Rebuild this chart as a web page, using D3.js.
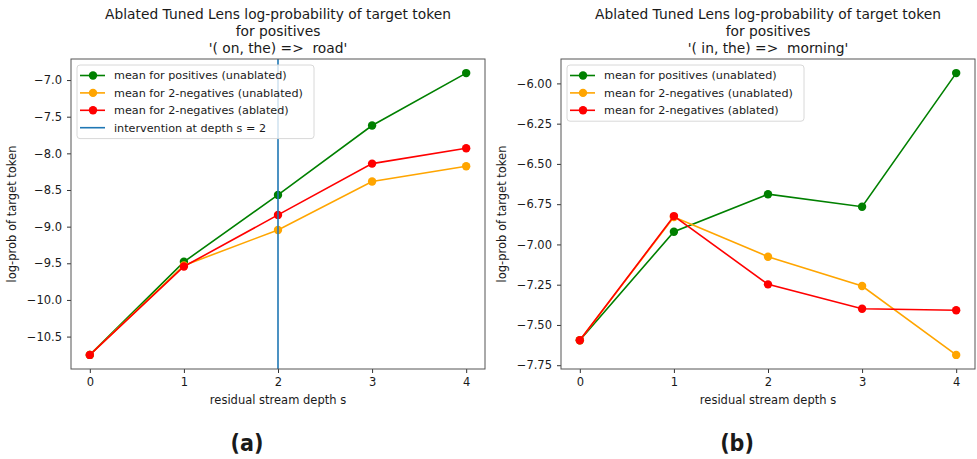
<!DOCTYPE html>
<html>
<head>
<meta charset="utf-8">
<script src="https://cdn.jsdelivr.net/npm/d3@7"></script>
<style>
  html, body { margin: 0; padding: 0; background: #fff; }
  svg { display: block; }
  text { font-family: "DejaVu Sans", sans-serif; fill: #1a1a1a; white-space: pre; }
</style>
</head>
<body>
<svg id="fig" width="977" height="459"></svg>
<script>
// residual stream depths
const depths = [0, 1, 2, 3, 4];

// panel (a): '( on, the) =>  road'
const roadPositives = [-10.75, -9.48, -8.567, -7.62, -6.905];
const roadNegUnablated = [-10.75, -9.53, -9.045, -8.385, -8.177];
const roadNegAblated = [-10.75, -9.544, -8.84, -8.14, -7.93];
const roadTicks = [-10.5, -10.0, -9.5, -9.0, -8.5, -8.0, -7.5, -7.0];
const roadIntervention = 2;

// panel (b): '( in, the) =>  morning'
const morningPositives = [-7.595, -6.921, -6.688, -6.766, -5.936];
const morningNegUnablated = [-7.595, -6.83, -7.076, -7.258, -7.686];
const morningNegAblated = [-7.595, -6.824, -7.248, -7.399, -7.409];
const morningTicks = [-7.75, -7.5, -7.25, -7.0, -6.75, -6.5, -6.25, -6.0];

const seriesNames = [
  "mean for positives (unablated)",
  "mean for 2-negatives (unablated)",
  "mean for 2-negatives (ablated)"
];
const seriesColors = ["#008000", "#ffa500", "#ff0000"];
const interventionColor = "#1f77b4";

const titleLine1 = "Ablated Tuned Lens log-probability of target token";
const titleLine2 = "for positives";
const xLabel = "residual stream depth s";
const yLabel = "log-prob of target token";

const svg = d3.select("#fig");

function drawPanel(opts) {
  const { left, right, top, bottom, series, ticks, tickFmt, subtitle, tag, intervention } = opts;
  const g = svg.append("g");

  const x = d3.scaleLinear().domain([-0.2, 4.2]).range([left, right]);
  const all = series.flat();
  const lo = d3.min(all), hi = d3.max(all), pad = (hi - lo) * 0.05;
  const y = d3.scaleLinear().domain([lo - pad, hi + pad]).range([bottom, top]);

  // axes
  const xAxis = g.append("g").attr("transform", `translate(0,${bottom})`)
    .call(d3.axisBottom(x).tickValues(depths).tickFormat(d3.format("d")).tickSizeOuter(0).tickSize(4).tickPadding(5));
  const yAxis = g.append("g").attr("transform", `translate(${left},0)`)
    .call(d3.axisLeft(y).tickValues(ticks).tickFormat(tickFmt).tickSizeOuter(0).tickSize(4).tickPadding(5));
  [xAxis, yAxis].forEach(a => {
    a.select(".domain").remove();
    a.selectAll("line").attr("stroke", "#333");
    a.selectAll("text").attr("font-size", 11.5).attr("font-family", "DejaVu Sans, sans-serif").attr("fill", "#1a1a1a");
  });

  // series lines and markers
  const line = d3.line().x((d, i) => x(depths[i])).y(d => y(d));
  series.forEach((vals, k) => {
    g.append("path").datum(vals).attr("d", line)
      .attr("fill", "none").attr("stroke", seriesColors[k]).attr("stroke-width", 1.6);
    g.selectAll(null).data(vals).enter().append("circle")
      .attr("cx", (d, i) => x(depths[i])).attr("cy", d => y(d)).attr("r", 4.2)
      .attr("fill", seriesColors[k]);
  });

  if (intervention !== undefined) {
    g.append("line").attr("x1", x(intervention)).attr("x2", x(intervention))
      .attr("y1", top).attr("y2", bottom)
      .attr("stroke", interventionColor).attr("stroke-width", 1.6);
  }

  // frame
  g.append("rect").attr("x", left).attr("y", top).attr("width", right - left).attr("height", bottom - top)
    .attr("fill", "none").attr("stroke", "#555").attr("stroke-width", 1);

  // legend
  const entries = seriesNames.map((n, k) => ({ name: n, color: seriesColors[k], marker: true }));
  if (intervention !== undefined) entries.push({ name: `intervention at depth s = ${intervention}`, color: interventionColor, marker: false });
  const lx = left + 6, ly = top + 6, rowH = 17.4;
  const leg = g.append("g");
  leg.append("rect").attr("x", lx).attr("y", ly).attr("width", 237).attr("height", entries.length * rowH + 4)
    .attr("rx", 3).attr("fill", "#fff").attr("fill-opacity", 0.8).attr("stroke", "#d8d8d8");
  entries.forEach((e, i) => {
    const cy = ly + 10.5 + i * rowH;
    leg.append("line").attr("x1", lx + 3).attr("x2", lx + 28).attr("y1", cy).attr("y2", cy)
      .attr("stroke", e.color).attr("stroke-width", 1.6);
    if (e.marker) leg.append("circle").attr("cx", lx + 16).attr("cy", cy).attr("r", 4.2).attr("fill", e.color);
    leg.append("text").attr("x", lx + 37).attr("y", cy).attr("dy", "0.35em")
      .attr("font-size", 11.2).text(e.name);
  });

  // titles and labels
  const cx = (left + right) / 2;
  const t = g.append("text").attr("text-anchor", "middle").attr("font-size", 13.8);
  [titleLine1, titleLine2, subtitle].forEach((s, i) => {
    t.append("tspan").attr("x", cx).attr("y", 19 + i * 17).text(s);
  });
  g.append("text").attr("x", cx).attr("y", 404).attr("text-anchor", "middle")
    .attr("font-size", 11.5).text(xLabel);
  g.append("text").attr("transform", `translate(${left - 55},${(top + bottom) / 2}) rotate(-90)`)
    .attr("text-anchor", "middle").attr("font-size", 11.5).text(yLabel);
  g.append("text").attr("x", cx - 31).attr("y", 451).attr("text-anchor", "middle")
    .attr("font-size", 23).attr("font-weight", "bold")
    .style("font-family", "'DejaVu Sans Condensed', 'DejaVu Sans', sans-serif")
    .style("font-stretch", "condensed").text(tag);
}

drawPanel({
  left: 71, right: 485, top: 59, bottom: 369,
  series: [roadPositives, roadNegUnablated, roadNegAblated],
  ticks: roadTicks, tickFmt: d => d3.format(".1f")(d).replace("-", "\u2212"),
  subtitle: "'( on, the) =>  road'", tag: "(a)", intervention: roadIntervention
});
drawPanel({
  left: 561, right: 975, top: 59, bottom: 369,
  series: [morningPositives, morningNegUnablated, morningNegAblated],
  ticks: morningTicks, tickFmt: d => d3.format(".2f")(d).replace("-", "\u2212"),
  subtitle: "'( in, the) =>  morning'", tag: "(b)"
});
</script>
</body>
</html>
